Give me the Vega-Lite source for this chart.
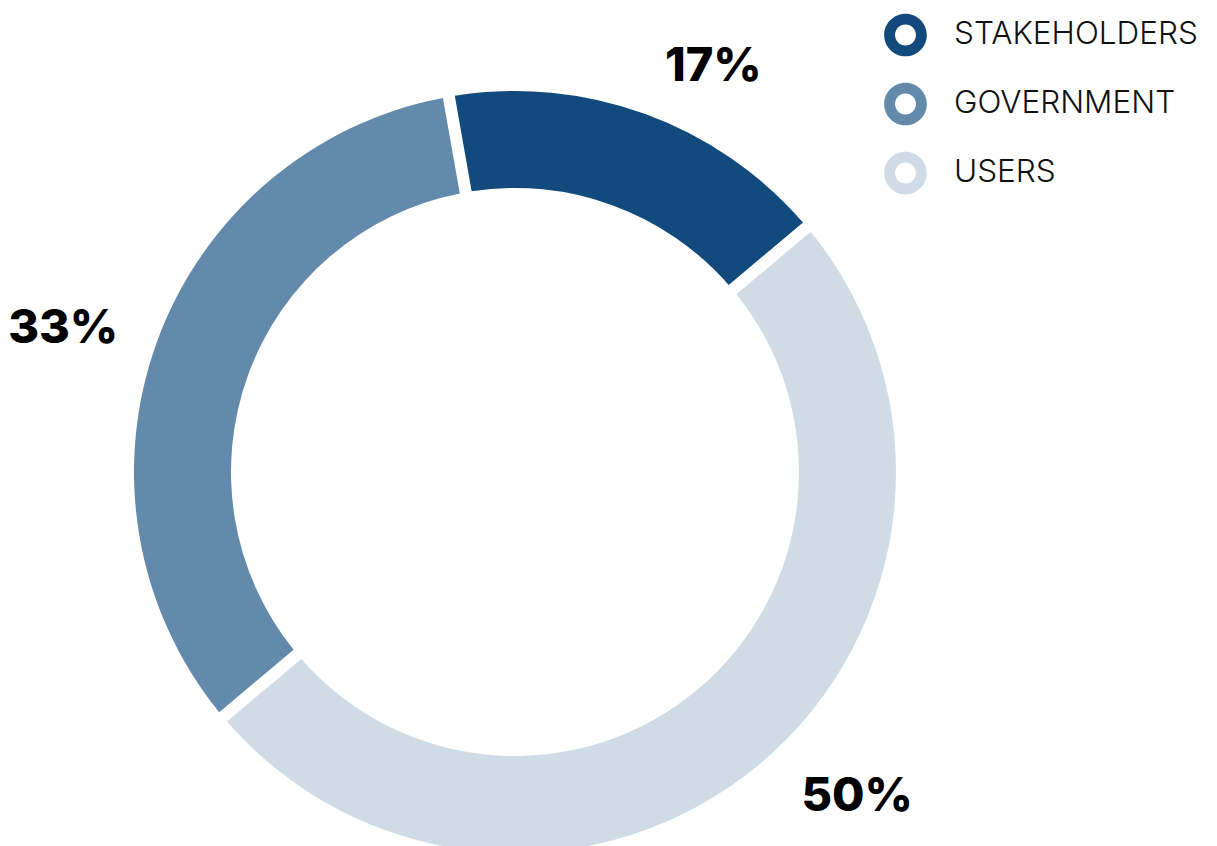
{
  "$schema": "https://vega.github.io/schema/vega-lite/v6.json",
  "width": 1030,
  "height": 944,
  "autosize": {"type": "none"},
  "padding": {"left": 0, "top": 0, "right": 187, "bottom": -98},
  "background": "white",
  "config": {"view": {"stroke": null}},
  "data": {
    "values": [
      {"group": "STAKEHOLDERS", "share": 0.1667, "rank": 1},
      {"group": "USERS", "share": 0.5, "rank": 2},
      {"group": "GOVERNMENT", "share": 0.3333, "rank": 3}
    ]
  },
  "encoding": {
    "theta": {"field": "share", "type": "quantitative", "stack": true, "scale": {"range": [-0.1745, 6.1087]}},
    "order": {"field": "rank", "type": "ordinal"}
  },
  "layer": [
    {
      "mark": {"type": "arc", "outerRadius": 381, "innerRadius": 284, "padAngle": 0.0253},
      "encoding": {
        "color": {
          "field": "group",
          "type": "nominal",
          "scale": {"domain": ["STAKEHOLDERS", "GOVERNMENT", "USERS"], "range": ["#124a7e", "#6389ab", "#cfdce6"]},
          "legend": {
            "title": null,
            "orient": "none",
            "legendX": 884,
            "legendY": 13.5,
            "symbolType": "M-1,0A1,1,0,1,0,1,0A1,1,0,1,0,-1,0ZM-0.49,0A0.49,0.49,0,1,1,0.49,0A0.49,0.49,0,1,1,-0.49,0Z",
            "symbolSize": 1823,
            "symbolStrokeWidth": 0,
            "labelFont": "Inter",
            "labelFontWeight": 300,
            "labelFontSize": 31.5,
            "labelColor": "#111111",
            "labelOffset": 27,
            "rowPadding": 26,
            "labelLimit": 400
          }
        }
      }
    },
    {
      "mark": {"type": "text", "radius": 451, "thetaOffset": 0.106, "font": "Inter", "fontWeight": 800, "fontSize": 47, "color": "black"},
      "encoding": {
        "text": {"field": "share", "type": "quantitative", "format": ".0%"},
        "opacity": {"condition": {"test": "datum.group == 'STAKEHOLDERS'", "value": 1}, "value": 0}
      }
    },
    {
      "mark": {"type": "text", "radius": 472, "thetaOffset": -0.113, "font": "Inter", "fontWeight": 800, "fontSize": 47, "color": "black"},
      "encoding": {
        "text": {"field": "share", "type": "quantitative", "format": ".0%"},
        "opacity": {"condition": {"test": "datum.group == 'USERS'", "value": 1}, "value": 0}
      }
    },
    {
      "mark": {"type": "text", "radius": 474, "thetaOffset": -0.042, "font": "Inter", "fontWeight": 800, "fontSize": 47, "color": "black"},
      "encoding": {
        "text": {"field": "share", "type": "quantitative", "format": ".0%"},
        "opacity": {"condition": {"test": "datum.group == 'GOVERNMENT'", "value": 1}, "value": 0}
      }
    }
  ]
}
